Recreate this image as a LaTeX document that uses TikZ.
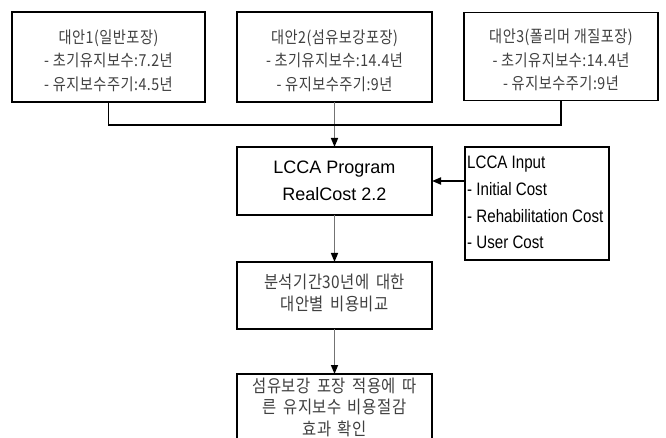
\documentclass[tikz,border=0pt]{standalone}
\usepackage{fontspec}
\setmainfont{Liberation Sans}
\newfontfamily\kr[FakeStretch=0.86,LetterSpace=3]{Noto Sans CJK KR}
\newfontfamily\krb[FakeStretch=0.88,LetterSpace=3,WordSpace=1.6]{Noto Sans CJK KR}
\newfontfamily\narrowsans[FakeStretch=0.84]{Liberation Sans}
\usetikzlibrary{arrows.meta}
\begin{document}
\begin{tikzpicture}[x=1pt,y=-1pt,
  box/.style={draw=black,line width=1.8pt,fill=white,minimum width=195pt,inner sep=0pt,outer sep=0pt},
  krtext/.style={font=\kr\fontsize{16.5}{23.5}\selectfont,text=black!75,align=center},
  krtextb/.style={font=\krb\fontsize{17.5}{21.5}\selectfont,text=black!75,align=center},
  entext/.style={font=\fontsize{18}{27}\selectfont,text=black,align=center},
  conn/.style={draw=black!55,line width=1.5pt},
  arr/.style={-{Triangle[width=7pt,length=9pt,color=black]}},
  hline/.style={draw=black,line width=1.8pt}]
\useasboundingbox (0,0) rectangle (666,438);
\fill[white] (0,0) rectangle (666,438);
\begin{scope}
\clip (0,0) rectangle (666,438);
% top boxes
\node[box,minimum width=193pt,minimum height=90pt] (b1) at (108.5,57) {};
\node[krtext] (t1) at (108.5,60.5) {대안1(일반포장)\\- 초기유지보수:7.2년\\- 유지보수주기:4.5년};
\node[box,minimum width=195pt,minimum height=90pt] (b2) at (334.5,57) {};
\node[krtext] (t2) at (334.5,60.5) {대안2(섬유보강포장)\\- 초기유지보수:14.4년\\- 유지보수주기:9년};
\node[box,minimum width=194pt,minimum height=88pt] (b3) at (561,56.5) {};
\node[krtext] (t3) at (561,60) {대안3(폴리머 개질포장)\\- 초기유지보수:14.4년\\- 유지보수주기:9년};
% program box
\node[box,minimum height=68pt,entext] (p) at (334.5,181) {LCCA Program\\RealCost 2.2};
% input box
\node[box,minimum width=144pt,minimum height=113pt] (in) at (537,203.5) {};
\node[font=\narrowsans\fontsize{18}{26.7}\selectfont,align=left,anchor=north west,inner sep=0pt] (intext) at (467,156)
  {LCCA Input\\- Initial Cost\\- Rehabilitation Cost\\- User Cost};
% comparison box
\node[box,minimum height=67pt] (c) at (334.5,295.5) {};
\node[krtextb] (ct) at (334.5,293) {분석기간30년에 대한\\대안별 비용비교};
% result box (cut off)
\node[box,minimum height=92pt,anchor=north] (r) at (334.5,374) {};
\node[krtextb,anchor=north,inner sep=0pt] (rt) at (334.5,377.5) {섬유보강 포장 적용에 따\\른 유지보수 비용절감\\효과 확인};
% connectors
\coordinate (j1) at (b1.south |- 0,125);
\coordinate (j3) at (b3.south |- 0,125);
\draw[hline] (b1.south) -- (j1) -- (j3) -- (b3.south);
\draw[conn,arr] (b2.south) -- (p.north);
\draw[hline] (j1) -- (j3);
\draw[hline,arr] (in.west |- p.east) -- (p.east);
\draw[conn,arr] (p.south) -- (c.north);
\draw[conn,arr] (c.south) -- (r.north);
\end{scope}
\end{tikzpicture}
\end{document}
